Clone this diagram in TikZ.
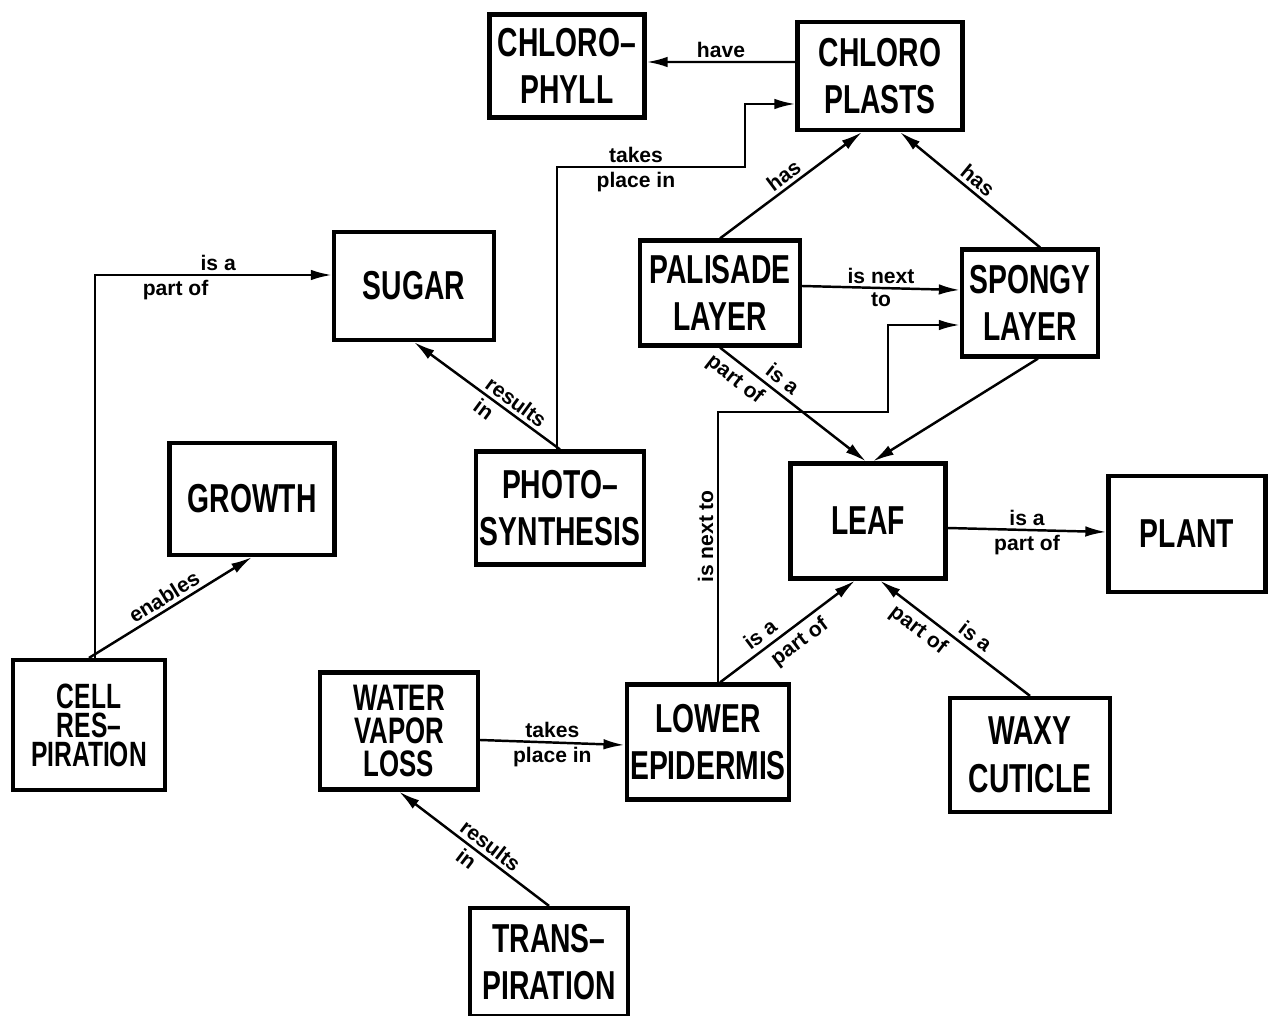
\documentclass[tikz,border=0pt]{standalone}
\usepackage{fontspec}
\newfontfamily\boxfont{Liberation Sans}[FakeStretch=0.7]
\newfontfamily\lblfont{Liberation Sans}
\usetikzlibrary{arrows.meta}

\tikzset{
  concept/.style={draw,line width=2.4pt,fill=white,align=center,inner sep=2pt,
    font=\boxfont\bfseries\fontsize{23}{27}\selectfont},
  link/.style={line width=1.4pt,-{Latex[length=12pt,width=6pt]}},
  lbl/.style={font=\lblfont\bfseries\fontsize{12}{13}\selectfont,inner sep=2pt},
}

\begin{document}
\begin{tikzpicture}[x=0.02cm,y=-0.02cm]
  \useasboundingbox (0,0) rectangle (1270,1016);

  % concepts
  \node[concept,minimum width=3.1cm,minimum height=2.06cm] (chlorophyll) at (567,66) {CHLORO–\\PHYLL};
  \node[concept,minimum width=3.3cm,minimum height=2.16cm] (chloroplasts) at (880,76) {CHLORO\\PLASTS};
  \node[concept,minimum width=3.2cm,minimum height=2.16cm] (sugar) at (414,286) {SUGAR};
  \node[concept,minimum width=3.2cm,minimum height=2.1cm] (palisade) at (720,293) {PALISADE\\LAYER};
  \node[concept,minimum width=2.72cm,minimum height=2.14cm] (spongy) at (1030,303) {SPONGY\\LAYER};
  \node[concept,minimum width=3.3cm,minimum height=2.24cm] (growth) at (252,499) {GROWTH};
  \node[concept,minimum width=3.2cm,minimum height=2.26cm] (photo) at (560,508) {PHOTO–\\SYNTHESIS};
  \node[concept,minimum width=3.1cm,minimum height=2.3cm] (leaf) at (868,521) {LEAF};
  \node[concept,minimum width=3.14cm,minimum height=2.32cm] (plant) at (1187,534) {PLANT};
  \node[concept,minimum width=3.04cm,minimum height=2.6cm,
        font=\boxfont\bfseries\fontsize{20}{16.5}\selectfont] (cellresp) at (89,725) {CELL\\RES–\\PIRATION};
  \node[concept,minimum width=3.16cm,minimum height=2.34cm,
        font=\boxfont\bfseries\fontsize{21}{19}\selectfont] (water) at (399,731) {WATER\\VAPOR\\LOSS};
  \node[concept,minimum width=3.2cm,minimum height=2.3cm] (lowerepi) at (708,742) {LOWER\\EPIDERMIS};
  \node[concept,minimum width=3.2cm,minimum height=2.28cm] (waxy) at (1030,755) {WAXY\\CUTICLE};
  \node[concept,minimum width=3.16cm,minimum height=2.16cm] (transp) at (549,962) {TRANS–\\PIRATION};

  % bends
  \coordinate (tpbend) at (745,167);
  \coordinate (nxbend) at (888,412);

  % links
  \draw[link] ([yshift=0.28cm]chloroplasts.west) -- node[lbl,above]{have} ([yshift=0.08cm]chlorophyll.east);
  \draw[link] ([xshift=-0.06cm]photo.north) |- node[lbl,pos=0.71,above]{takes} node[lbl,pos=0.71,below]{place in} (tpbend)
    |- ([yshift=-0.56cm]chloroplasts.west);
  \draw[link] (palisade.north) -- node[lbl,sloped,above]{has} ([xshift=-0.36cm]chloroplasts.south);
  \draw[link] ([xshift=0.2cm]spongy.north) -- node[lbl,sloped,above]{has} ([xshift=0.4cm]chloroplasts.south);
  \draw[link] ([yshift=0.14cm]palisade.east) -- node[lbl,above]{is next} node[lbl,below]{to} ([yshift=0.26cm]spongy.west);
  \draw[link] ([xshift=0.2cm]lowerepi.north) |- node[lbl,pos=0.27,sloped,above]{is next to} (nxbend)
    |- ([yshift=-0.44cm]spongy.west);
  \draw[link] (palisade.south) -- node[lbl,sloped,above=1pt,pos=0.37]{is a} node[lbl,sloped,below=1pt,pos=0.17]{part of}
    ([xshift=-0.04cm]leaf.north);
  \draw[link] ([xshift=0.16cm]spongy.south) -- ([xshift=0.1cm]leaf.north);
  \draw[link] ([yshift=-0.14cm]leaf.east) -- node[lbl,above]{is a} node[lbl,below]{part of} ([yshift=0.04cm]plant.west);
  \draw[link] (photo.north) -- node[lbl,sloped,above,pos=0.35]{results} node[lbl,sloped,below,pos=0.47]{in} (sugar.south);
  \draw[link] ([xshift=0.12cm]cellresp.north) |- node[lbl,pos=0.76,above]{is a} node[lbl,pos=0.67,below]{part of}
    ([yshift=0.22cm]sugar.west);
  \draw[link] (cellresp.north) -- node[lbl,sloped,above]{enables} (growth.south);
  \draw[link] ([yshift=-0.18cm]water.east) -- node[lbl,above]{takes} node[lbl,below]{place in} ([yshift=-0.06cm]lowerepi.west);
  \draw[link] (transp.north) -- node[lbl,sloped,above,pos=0.44]{results} node[lbl,sloped,below,pos=0.5]{in} (water.south);
  \draw[link] ([xshift=0.24cm]lowerepi.north) -- node[lbl,sloped,above=1pt,pos=0.36]{is a} node[lbl,sloped,below=1pt,pos=0.52]{part of}
    ([xshift=-0.26cm]leaf.south);
  \draw[link] (waxy.north) -- node[lbl,sloped,above=1pt,pos=0.42]{is a} node[lbl,sloped,below=1pt,pos=0.68]{part of}
    ([xshift=0.24cm]leaf.south);
\end{tikzpicture}
\end{document}
